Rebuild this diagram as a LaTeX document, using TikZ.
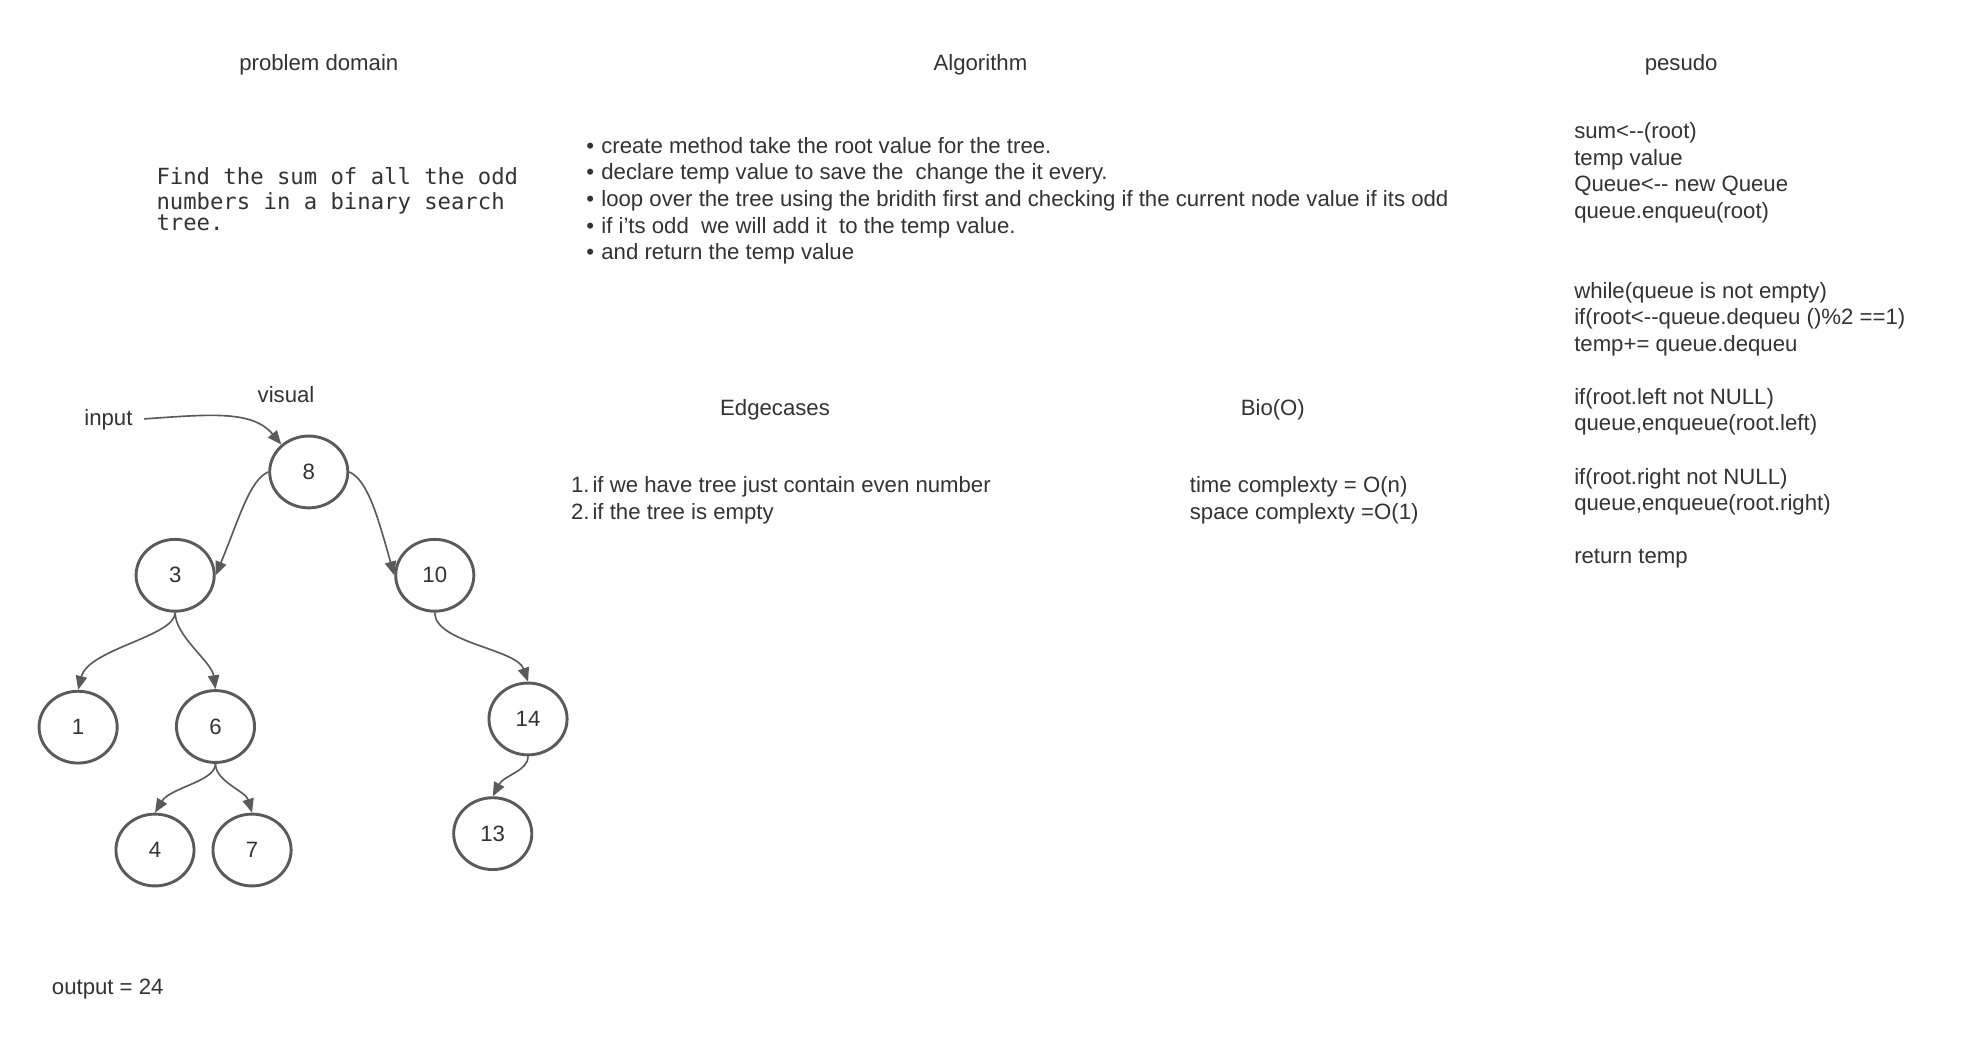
\documentclass[tikz,border=0pt]{standalone}
\usepackage{fontspec}
\setmainfont{Liberation Sans}
\newfontfamily\monofont{DejaVu Sans Mono}
\usetikzlibrary{shapes.geometric,arrows.meta}
\definecolor{txt}{HTML}{333333}
\definecolor{ln}{HTML}{5A5A5A}
\begin{document}
\begin{tikzpicture}[x=1pt,y=1pt,
  every node/.style={text=txt, inner sep=0pt, font=\fontsize{17.6}{21.1}\selectfont},
  lbl/.style={anchor=center},
  blk/.style={anchor=north west, align=left},
  treenode/.style={ellipse, draw=ln, line width=2.3pt, minimum width=62pt, minimum height=57pt, inner sep=0pt},
  conn/.style={draw=ln, line width=1.3pt, -{Triangle[length=11pt,width=9pt]}}]
\useasboundingbox (0,0) rectangle (1568,-838.8);
\fill[white] (0,0) rectangle (1568,-838.8);

% headers
\node[lbl] (hpd) at (253,-51) {problem domain};
\node[lbl] (halg) at (778,-51) {Algorithm};
\node[lbl] (hps) at (1334,-51) {pesudo};

% problem statement
\node[blk, font=\monofont\fontsize{17.65}{20.5}\selectfont] (prob) at (124,-131.5) {\strut Find the sum of all the odd\\numbers in a binary search\\[-4pt]tree.};

% algorithm bullets
\newcommand{\bul}{\makebox[12pt][l]{\textbullet}}
\node[blk] (alg) at (465,-106.7) {\strut\bul create method take the root value for the tree.\\
\bul declare temp value to save the \ change the it every.\\
\bul loop over the tree using the bridith first and checking if the current node value if its odd\\
\bul if i'ts odd \ we will add it \ to the temp value.\\
\bul and return the temp value};

% pseudo code
\node[blk] (pseudo) at (1249,-94.9) {\strut sum<-{}-(root)\\
temp value\\
Queue<-{}- new Queue\\
queue.enqueu(root)\\[42.2pt]
while(queue is not empty)\\
if(root<-{}-queue.dequeu ()\%2 ==1)\\
temp+= queue.dequeu\\[21.1pt]
if(root.left not NULL)\\
queue,enqueue(root.left)\\[21.1pt]
if(root.right not NULL)\\
queue,enqueue(root.right)\\[21.1pt]
return temp};

% visual part
\node[lbl] (vis) at (227,-313) {visual};
\node[lbl] (inp) at (86,-333) {input};
\node[lbl] (hedge) at (615,-325.5) {Edgecases};
\node[lbl] (hbio) at (1010,-325.5) {Bio(O)};

\node[blk] (edge) at (453,-376.2) {\strut\makebox[17pt][l]{1.}if we have tree just contain even number\\
\makebox[17pt][l]{2.}if the tree is empty};
\node[blk] (bio) at (944,-376.2) {\strut time complexty = O(n)\\
space complexty =O(1)};

\node[anchor=west] (out) at (41,-785) {output = 24};

% tree
\node[treenode] (n8) at (245,-374.5) {8};
\node[treenode] (n3) at (139,-456.5) {3};
\node[treenode] (n10) at (345,-456.5) {10};
\node[treenode] (n1) at (62,-577) {1};
\node[treenode] (n6) at (171,-576.5) {6};
\node[treenode] (n14) at (419,-570.5) {14};
\node[treenode] (n4) at (123,-674.5) {4};
\node[treenode] (n7) at (200,-674.5) {7};
\node[treenode] (n13) at (391,-661.5) {13};

\draw[conn, shorten <=9pt] (inp.east) .. controls (165,-329) and (200,-325) .. (n8.135);
\draw[conn] (n8.west) .. controls (198,-381) and (190,-411) .. (n3.east);
\draw[conn] (n8.east) .. controls (292,-381) and (300,-411) .. (n10.west);
\draw[conn] (n3.south) .. controls (139,-505) and (70,-515) .. (n1.north);
\draw[conn] (n3.south) .. controls (139,-505) and (168,-525) .. (n6.north);
\draw[conn] (n10.south) .. controls (345,-510) and (410,-515) .. (n14.north);
\draw[conn] (n6.south) .. controls (171,-620) and (135,-625) .. (n4.north);
\draw[conn] (n6.south) .. controls (171,-620) and (195,-628) .. (n7.north);
\draw[conn] (n14.south) .. controls (419,-612) and (400,-615) .. (n13.north);
\end{tikzpicture}
\end{document}
